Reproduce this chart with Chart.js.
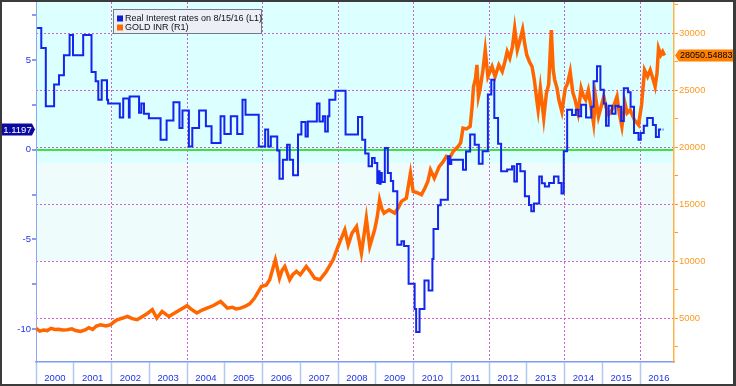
<!DOCTYPE html>
<html>
<head>
<meta charset="utf-8">
<script src="https://cdn.jsdelivr.net/npm/chart.js@4"></script>
<style>
html, body { margin: 0; padding: 0; background: #fff; }
#wrap { width: 736px; height: 386px; box-sizing: border-box; border: solid #3b3b3b; border-width: 2px 3px 2px 2px; }
canvas { display: block; }
</style>
</head>
<body>
<div id="wrap"><canvas id="chart" width="731" height="382"></canvas></div>
<script>
'use strict';

const YEAR_LABELS = [2000, 2001, 2002, 2003, 2004, 2005, 2006, 2007, 2008,
                     2009, 2010, 2011, 2012, 2013, 2014, 2015, 2016];
const LEFT_TICKS  = [-10, -7.5, -5, -2.5, 0, 2.5, 5, 7.5];
const RIGHT_TICKS = [2500, 5000, 7500, 10000, 12500, 15000, 17500, 20000,
                     22500, 25000, 27500, 30000, 32500];

// real interest rate (L1), step changes: year -> new value
const RATE_YEARS = [
    2000.03, 2000.14, 2000.26, 2000.48, 2000.61, 2000.74, 2000.89, 2000.98,
    2001.25, 2001.47, 2001.58, 2001.65, 2001.74, 2001.88, 2001.91,
    2002.22, 2002.31, 2002.46, 2002.48, 2002.73, 2002.79, 2002.86, 2002.99,
    2003.3, 2003.46, 2003.64, 2003.8, 2003.88,
    2004.05, 2004.14, 2004.32, 2004.5, 2004.65, 2004.89, 2004.99,
    2005.16, 2005.33, 2005.47, 2005.55, 2005.9,
    2006.07, 2006.15, 2006.22, 2006.39, 2006.45, 2006.54, 2006.65, 2006.72, 2006.81, 2006.94,
    2007.03, 2007.14, 2007.2, 2007.44, 2007.51, 2007.6, 2007.66, 2007.73, 2007.77, 2007.93,
    2008.2, 2008.53, 2008.64, 2008.72, 2008.81, 2008.9, 2008.97,
    2009.04, 2009.08, 2009.1, 2009.13, 2009.16, 2009.24, 2009.32, 2009.4, 2009.46, 2009.57, 2009.68, 2009.75, 2009.87,
    2010.03, 2010.07, 2010.16, 2010.29, 2010.4, 2010.5, 2010.53, 2010.65, 2010.72, 2010.91, 2010.96,
    2011.0, 2011.31, 2011.39, 2011.5, 2011.62, 2011.73, 2011.83, 2011.97,
    2012.06, 2012.14, 2012.24, 2012.32, 2012.48, 2012.61, 2012.67, 2012.74, 2012.83, 2012.95,
    2013.06, 2013.12, 2013.19, 2013.33, 2013.4, 2013.48, 2013.59, 2013.72, 2013.84, 2013.92, 2013.98,
    2014.07, 2014.2, 2014.3, 2014.37, 2014.44, 2014.57, 2014.71, 2014.77, 2014.86, 2014.95,
    2015.04, 2015.1, 2015.17, 2015.26, 2015.35, 2015.42, 2015.5, 2015.57, 2015.68, 2015.75, 2015.84, 2015.96,
    2016.02, 2016.1, 2016.19, 2016.34, 2016.42, 2016.5, 2016.56, 2016.57, 2016.6, 2016.62
];
const RATE_VALUES = [
    6.79, 5.67, 2.42, 3.63, 4.15, 5.26, 6.4, 5.26,
    6.4, 4.33, 3.81, 2.79, 3.87, 2.79, 2.57,
    1.8, 2.86, 1.8, 2.97, 2.06, 2.57, 2.0, 1.75,
    0.56, 1.63, 2.64, 1.21, 2.18,
    0.18, 1.21, 2.18, 1.3, 0.37, 1.86, 0.87,
    1.86, 0.87, 2.79, 1.95, 0.18,
    1.12, 0.18, 0.74, -0.04, -1.62, -0.56, 0.28, -0.56, -1.43, 0.84,
    1.54, 0.74, 1.57, 2.57, 1.57, 1.86, 1.02, 1.86, 2.79, 3.29,
    0.84, 1.82, 0.56, -0.22, -0.93, -0.47, -0.74,
    -1.86, -1.2, -1.9, -1.3, -1.8, 0.09, -1.3, -1.74, -2.32, -5.3, -5.11, -5.37, -7.47,
    -8.89, -10.17, -8.89, -7.29, -7.85, -6.1, -4.42, -3.1, -2.79, -0.37, -0.8,
    -0.56, -1.12, -0.1, 0.84, 0.28, -0.78, -0.09, 3.07,
    3.9, 1.77, 0.33, -1.21, -1.1, -0.92, -1.77, -0.8, -1.2, -2.6,
    -3.08, -3.44, -3.0, -1.49, -1.87, -2.06, -1.86, -1.5, -1.86, -2.45, -0.09,
    2.23, 1.94, 2.23, 1.86, 2.51, 1.79, 2.4, 3.81, 4.65, 3.34,
    2.57, 1.34, 2.45, 2.0, 2.45, 2.4, 1.6, 3.42, 3.2, 2.4, 0.93, 0.56,
    0.93, 1.34, 1.77, 1.38, 0.7, 1.12, 1.12, null, 1.12, 1.12
];

// gold price in INR (R1)
const GOLD_YEARS = [
    2000.0, 2000.1, 2000.2, 2000.3, 2000.4, 2000.5, 2000.6, 2000.7, 2000.83, 2000.95,
    2001.05, 2001.18, 2001.3, 2001.4, 2001.5, 2001.6, 2001.71, 2001.85, 2001.98,
    2002.08, 2002.15, 2002.3, 2002.42, 2002.55, 2002.68, 2002.8, 2002.95,
    2003.08, 2003.2, 2003.34, 2003.45, 2003.52, 2003.65, 2003.82,
    2004.0, 2004.1, 2004.26, 2004.4, 2004.53, 2004.7, 2004.89,
    2005.0, 2005.07, 2005.2, 2005.3, 2005.42, 2005.55, 2005.66, 2005.79, 2005.97,
    2006.1, 2006.19, 2006.34, 2006.45, 2006.52, 2006.59, 2006.72, 2006.8, 2006.9,
    2007.0, 2007.16, 2007.28, 2007.38, 2007.52, 2007.6, 2007.69, 2007.87,
    2008.0, 2008.1, 2008.18, 2008.27, 2008.37, 2008.49, 2008.56, 2008.62, 2008.68, 2008.75, 2008.84, 2008.97,
    2009.04, 2009.1, 2009.16, 2009.22, 2009.35, 2009.5, 2009.6, 2009.68, 2009.81, 2009.92, 2009.99,
    2010.1, 2010.21, 2010.3, 2010.38, 2010.45, 2010.55, 2010.68, 2010.78, 2010.87, 2010.95,
    2011.05, 2011.18, 2011.25, 2011.31, 2011.4, 2011.5, 2011.55, 2011.59, 2011.64, 2011.68, 2011.72, 2011.76, 2011.84, 2011.9, 2011.97,
    2012.08, 2012.16, 2012.26, 2012.35, 2012.42, 2012.48, 2012.55, 2012.62, 2012.68, 2012.75, 2012.82, 2012.89, 2012.95,
    2013.0, 2013.07, 2013.14, 2013.2, 2013.27, 2013.3, 2013.36, 2013.45, 2013.52, 2013.58, 2013.65, 2013.7, 2013.74, 2013.8, 2013.85, 2013.93,
    2014.02, 2014.08, 2014.15, 2014.22, 2014.28, 2014.36, 2014.44, 2014.5, 2014.56, 2014.63, 2014.7, 2014.77, 2014.82, 2014.9,
    2015.04, 2015.1, 2015.17, 2015.28, 2015.39, 2015.45, 2015.52, 2015.6, 2015.66, 2015.74, 2015.85, 2015.96,
    2016.04, 2016.12, 2016.2, 2016.27, 2016.35, 2016.4, 2016.45, 2016.49, 2016.55, 2016.6, 2016.65
];
const GOLD_VALUES = [
    4100, 3850, 3950, 3900, 4100, 4000, 4020, 3950, 3970, 4050,
    3900, 3820, 3950, 4150, 4000, 4300, 4410, 4300, 4420,
    4700, 4850, 5000, 5140, 4950, 4850, 5100, 5400,
    5730, 5000, 5580, 5300, 5140, 5400, 5730,
    6080, 5800, 5440, 5700, 5870, 6100, 6460,
    6100, 5870, 5950, 5800, 5870, 6050, 6250, 6750, 7770,
    7900, 8360, 10110, 8500, 9200, 9530, 8360, 8800, 9090,
    8800, 9530, 9000, 8500, 8360, 8700, 9090, 10110,
    11280, 12100, 12740, 11420, 12450, 13030, 11800, 10700, 12100, 13770, 11290, 12740,
    13900, 15380, 14600, 14210, 14500, 14210, 14700, 15240, 15530, 17720, 16110,
    16000, 15820, 16400, 17000, 18010, 17280, 18300, 18700, 19180, 19000,
    19620, 20050, 20400, 21670, 21600, 21810, 23500, 25320, 26000, 27220, 24440, 25030, 26800, 28530, 26200,
    27080, 26200, 27220, 26640, 27500, 28390, 27810, 28800, 30440, 28530, 29400, 30340, 29000,
    28100, 27500, 27080, 25910, 24000, 23270, 25180, 22540, 24740, 25500, 30290, 26800, 25910, 25200, 24160, 23130,
    25180, 25600, 26640, 24800, 24160, 22990, 25180, 24500, 24160, 25000, 23570, 22100, 24450, 22690,
    24450, 23500, 22840, 23420, 24450, 23000, 21810, 23860, 23000, 23270, 22400, 21960,
    23710, 26780, 26200, 26780, 25900, 25320, 26500, 28680, 28100, 28400, 28050.54883
];

const LAST_RATE = 1.1197;
const LAST_GOLD = 28050.54883;
const LEGEND_LABELS = ['Real Interest rates on 8/15/16 (L1)', 'GOLD INR (R1)'];
const BAND_EDGES = [18600, 10000];   // background bands, right-axis values

const FONT = { family: "'Liberation Sans', Arial, sans-serif", size: 9.5 };
const PINK = 'rgba(200,70,200,0.85)';
const BLUE = '#1226ee';
const ORANGE = '#ff6600';

const rateData = RATE_YEARS.map((x, i) => ({ x, y: RATE_VALUES[i] }));
const goldData = GOLD_YEARS.map((x, i) => ({ x, y: GOLD_VALUES[i] }));

function tag(ctx, x, y, w, h, tipX, fill) {
    ctx.beginPath();
    if (tipX > x) {
        ctx.moveTo(x, y - h / 2); ctx.lineTo(x + w, y - h / 2); ctx.lineTo(tipX, y);
        ctx.lineTo(x + w, y + h / 2); ctx.lineTo(x, y + h / 2);
    } else {
        ctx.moveTo(tipX, y); ctx.lineTo(x, y - h / 2); ctx.lineTo(x + w, y - h / 2);
        ctx.lineTo(x + w, y + h / 2); ctx.lineTo(x, y + h / 2);
    }
    ctx.closePath();
    ctx.fillStyle = fill;
    ctx.fill();
}

const deco = {
    id: 'deco',
    beforeDraw(chart) {
        const { ctx, chartArea: a, scales } = chart;
        const y1 = scales.y1.getPixelForValue(BAND_EDGES[0]);
        const y2 = scales.y1.getPixelForValue(BAND_EDGES[1]);
        ctx.save();
        ctx.fillStyle = '#dcffff';
        ctx.fillRect(a.left, a.top, a.width, y1 - a.top);
        ctx.fillStyle = '#effcfc';
        ctx.fillRect(a.left, y1, a.width, y2 - y1);
        ctx.restore();
    },
    afterDraw(chart) {
        const { ctx, scales } = chart;
        ctx.save();
        ctx.font = `9px ${FONT.family}`;
        ctx.textBaseline = 'middle';

        // legend box
        ctx.fillStyle = '#eceff6';
        ctx.fillRect(111, 7, 149, 25);
        ctx.strokeStyle = '#707a88';
        ctx.lineWidth = 1;
        ctx.strokeRect(111.5, 7.5, 148, 24);
        [BLUE, ORANGE].forEach((c, i) => {
            const cy = 16.5 + i * 9;
            ctx.fillStyle = c === BLUE ? '#0a1fd0' : '#ff6a00';
            ctx.fillRect(115, cy - 3, 6, 6);
            ctx.fillStyle = '#111';
            ctx.fillText(LEGEND_LABELS[i], 123, cy);
        });

        // last value tags
        ctx.font = `9.5px ${FONT.family}`;
        const ly = scales.y.getPixelForValue(LAST_RATE);
        tag(ctx, 0, ly, 30, 12, 33, '#0a0aa0');
        ctx.fillStyle = '#fff';
        ctx.textAlign = 'center';
        ctx.fillText(String(LAST_RATE), 15.5, ly + 0.5);

        ctx.font = `9px ${FONT.family}`;
        const ry = scales.y1.getPixelForValue(LAST_GOLD);
        tag(ctx, 677, ry, 60, 12, 673, '#ff7f00');
        ctx.fillStyle = '#000';
        ctx.textAlign = 'left';
        ctx.fillText(String(LAST_GOLD), 678, ry + 0.5);
        ctx.restore();
    }
};

new Chart(document.getElementById('chart'), {
    type: 'line',
    data: {
        datasets: [
            {
                label: LEGEND_LABELS[0], data: rateData, yAxisID: 'y',
                borderColor: BLUE, borderWidth: 2, pointRadius: 0,
                stepped: true, spanGaps: false,
            },
            {
                label: LEGEND_LABELS[1], data: goldData, yAxisID: 'y1',
                borderColor: ORANGE, borderWidth: 3.5, pointRadius: 0, tension: 0,
            }
        ]
    },
    options: {
        responsive: false, animation: false, events: [],
        layout: { padding: 0 },
        plugins: { legend: { display: false }, tooltip: { enabled: false } },
        scales: {
            x: {
                type: 'linear', min: 2000, max: 2016.9,
                afterBuildTicks: s => { s.ticks = YEAR_LABELS.map(y => ({ value: y + 0.5 })); },
                afterFit: s => { s.height = 22; s.paddingLeft = 0; s.paddingRight = 0; },
                ticks: {
                    autoSkip: false, maxRotation: 0, color: '#1f33e6', font: FONT, padding: -11,
                    callback: v => String(Math.floor(v)),
                },
                grid: {
                    offset: true,
                    color: c => (c.index > 0 && c.index % 2 === 0) ? PINK : 'transparent',
                    tickColor: '#b0c8f4', tickLength: 22, tickWidth: 1.5,
                },
                border: { color: '#7d9bf0', width: 1.5, dash: [2, 2] },
            },
            y: {
                position: 'left', min: -11.84, max: 8.235,
                afterBuildTicks: s => { s.ticks = LEFT_TICKS.map(v => ({ value: v })); },
                afterFit: s => { s.width = 34; s.paddingTop = 0; s.paddingBottom = 0; },
                ticks: {
                    autoSkip: false, color: '#1f33e6', font: FONT, padding: 1,
                    callback: v => v % 5 === 0 ? String(v) : '',
                },
                grid: {
                    color: c => (c.tick && c.tick.value === 0) ? '#3fe03f' : 'transparent',
                    lineWidth: 2, tickColor: '#1f33e6', tickLength: 4, tickWidth: 1,
                },
                border: { color: '#8fa4f2', width: 1 },
            },
            y1: {
                position: 'right', min: 1140, max: 32746,
                afterBuildTicks: s => { s.ticks = RIGHT_TICKS.map(v => ({ value: v })); },
                afterFit: s => { s.width = 59; s.paddingTop = 0; s.paddingBottom = 0; },
                ticks: {
                    autoSkip: false, color: '#ff9a1f', font: FONT, padding: 1,
                    callback: v => v % 5000 === 0 ? String(v) : '',
                },
                grid: {
                    color: c => (c.tick && c.tick.value % 5000 === 0) ? PINK : 'transparent',
                    tickColor: '#ff9a1f', tickLength: 4, tickWidth: 1,
                },
                border: { color: '#ffb347', width: 1.5, dash: [2, 2] },
            }
        }
    },
    plugins: [deco]
});
</script>
</body>
</html>
